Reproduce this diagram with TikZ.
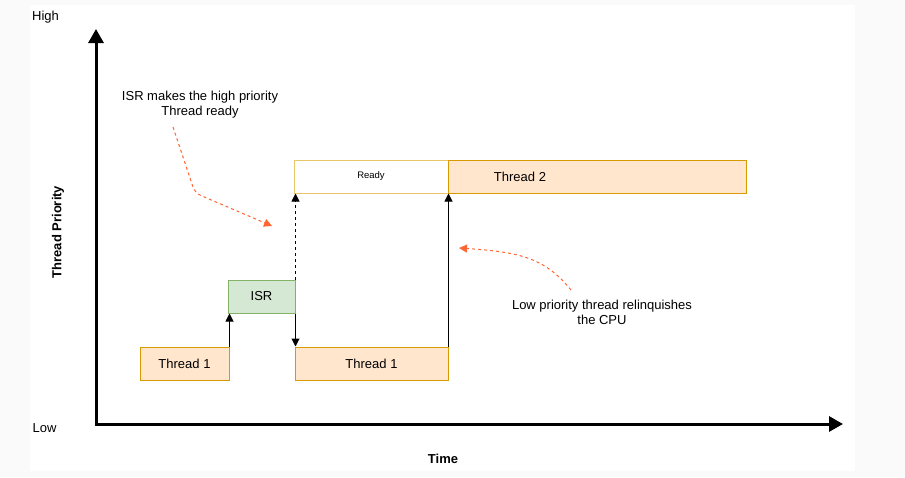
\documentclass[tikz,border=0pt]{standalone}
\usepackage{fontspec}
\setmainfont{Liberation Sans}
\usetikzlibrary{arrows.meta}
\definecolor{thfill}{HTML}{FFE6CC}
\definecolor{thline}{HTML}{D79B00}
\definecolor{isrfill}{HTML}{D5E8D4}
\definecolor{isrline}{HTML}{82B366}
\definecolor{rdline}{HTML}{E8C66A}
\definecolor{notecol}{HTML}{FF6633}
\begin{document}
\begin{tikzpicture}[x=1pt,y=-1pt,
    txt/.style={font=\fontsize{13}{15}\selectfont, align=center, inner sep=0pt},
    box/.style={draw, line width=1pt, minimum height=33pt, inner sep=0pt,
      font=\fontsize{13}{15}\selectfont},
    thbox/.style={box, draw=thline, fill=thfill},
    isrbox/.style={box, draw=isrline, fill=isrfill},
    readybox/.style={box, draw=rdline, fill=white, font=\fontsize{9.5}{11}\selectfont},
    tip/.style={line width=1pt, -{Triangle[width=8pt,length=8pt]}},
    notearrow/.style={notecol, line width=1pt, dash pattern=on 3pt off 3pt,
      -{Triangle[width=8pt,length=8pt]}}]
        % Background
        \fill[gray!4] (0,0) rectangle (905,477);
        \fill[white] (30,5) rectangle (855,471);

        % Axes
        \coordinate (ytop) at (96,29);
        \coordinate (orig) at (96,424);
        \coordinate (xend) at (843,424);
        \draw[line width=3pt, {Triangle[width=15pt,length=14pt]}-{Triangle[width=15pt,length=14pt]}]
          (ytop) -- (orig) -- (xend);

        % Axis labels
        \node[txt] (high) at (45.5,17) {High};
        \node[txt] (low) at (44.5,428) {Low};
        \node[txt, font=\fontsize{13}{15}\selectfont\bfseries, rotate=90] (prio) at (58,232) {Thread Priority};
        \node[txt, font=\fontsize{13}{15}\selectfont\bfseries] (time) at (443,459) {Time};

        % Threads and ISR
        \node[thbox, minimum width=89pt] (t1a) at (184.5,363.5) {Thread 1};
        \node[isrbox, minimum width=67pt] (isr) at (261.5,296.5) {ISR};
        \node[thbox, minimum width=153pt] (t1b) at (371.5,363.5) {Thread 1};
        \node[readybox, minimum width=154pt] (ready) at (371,176.5) {Ready};
        \node[thbox, minimum width=298pt] (t2) at (597,176.5) {};
        \node[txt] (t2lbl) at (520,177) {Thread 2};

        % Switches
        \draw[tip] (t1a.north east) -- (t1a.north east |- isr.south);
        \draw[tip] (isr.south east) -- (isr.south east |- t1b.north);
        \draw[tip, dashed] (isr.north east) -- (isr.north east |- ready.south);
        \draw[tip] (t1b.north east) -- (t1b.north east |- t2.south);

        % Notes
        \node[txt] (isrnote) at (200,105) {ISR makes the high priority\\Thread ready};
        \coordinate (n1) at (173,127);
        \coordinate (n1end) at (272,226);
        \draw[notearrow, rounded corners=6pt] (n1) -- (195,193) -- (n1end);
        \node[txt] (cpunote) at (602,312) {Low priority thread relinquishes\\the CPU};
        \coordinate (n2) at (571,290);
        \coordinate (n2end) at (459,248);
        \draw[notearrow] (n2) .. controls (545,258) and (520,252) .. (n2end);
\end{tikzpicture}
\end{document}
